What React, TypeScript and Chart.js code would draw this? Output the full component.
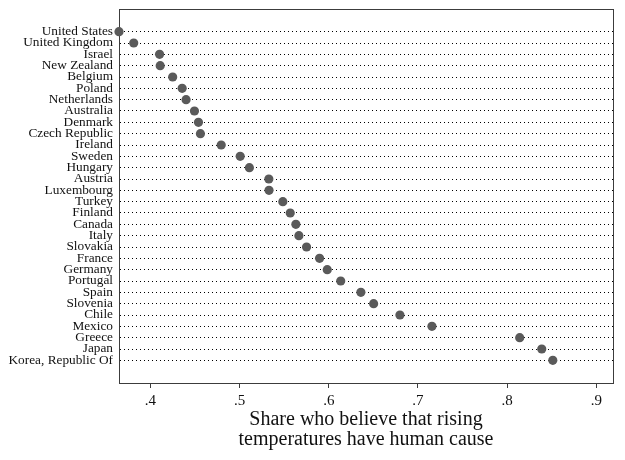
import React, { useEffect, useRef } from "react";
import { Chart, registerables } from "chart.js";

Chart.register(...registerables);

const countries = [
  "United States", "United Kingdom", "Israel", "New Zealand", "Belgium", "Poland",
  "Netherlands", "Australia", "Denmark", "Czech Republic", "Ireland", "Sweden",
  "Hungary", "Austria", "Luxembourg", "Turkey", "Finland", "Canada", "Italy",
  "Slovakia", "France", "Germany", "Portugal", "Spain", "Slovenia", "Chile",
  "Mexico", "Greece", "Japan", "Korea, Republic Of",
];

const shares = [
  0.3648, 0.3813, 0.4103, 0.411, 0.425, 0.4356,
  0.44, 0.4494, 0.4539, 0.4561, 0.4794, 0.5007,
  0.511, 0.5328, 0.533, 0.5485, 0.5568, 0.5631, 0.5665,
  0.5751, 0.5897, 0.5983, 0.6134, 0.636, 0.6503, 0.6798,
  0.7157, 0.8141, 0.8388, 0.8512,
];

const xTicks = [0.4, 0.5, 0.6, 0.7, 0.8, 0.9];
const xTitle = ["Share who believe that rising", "temperatures have human cause"];

const FONT = "'Liberation Serif', 'Times New Roman', serif";

const boxPlugin = {
  id: "box",
  beforeDatasetsDraw(chart: any) {
    const { ctx, chartArea } = chart;
    ctx.save();
    ctx.strokeStyle = "#3c3c3c";
    ctx.lineWidth = 1;
    ctx.strokeRect(
      Math.round(chartArea.left) + 0.5,
      Math.round(chartArea.top) + 0.5,
      Math.round(chartArea.right - chartArea.left),
      Math.round(chartArea.bottom - chartArea.top)
    );
    ctx.restore();
  },
};

export default function App() {
  const ref = useRef<HTMLCanvasElement>(null);

  useEffect(() => {
    if (!ref.current) return;
    const chart = new Chart(ref.current, {
      type: "scatter",
      data: {
        datasets: [
          {
            data: shares.map((v, i) => ({ x: v, y: i })),
            backgroundColor: "#5a5a5a",
            borderColor: "#5a5a5a",
            borderWidth: 0,
            pointRadius: 4.6,
            clip: false,
          },
        ],
      },
      plugins: [boxPlugin],
      options: {
        animation: false,
        responsive: false,
        maintainAspectRatio: false,
        layout: { padding: { left: 0, right: 12, top: 9, bottom: 0 } },
        plugins: {
          legend: { display: false },
          tooltip: { enabled: false },
          title: { display: false },
        },
        scales: {
          x: {
            type: "linear",
            min: 0.3648,
            max: 0.9187,
            afterBuildTicks: (scale: any) => {
              scale.ticks = xTicks.map((v) => ({ value: v }));
            },
            afterFit: (scale: any) => {
              scale.height = 77;
              scale.paddingLeft = 0;
              scale.paddingRight = 0;
            },
            grid: {
              display: true,
              drawOnChartArea: false,
              drawTicks: true,
              tickLength: 5,
              color: "#3c3c3c",
            },
            border: { display: true, color: "#3c3c3c", width: 1 },
            ticks: {
              padding: 4,
              color: "#111",
              font: { family: FONT, size: 15 },
              maxRotation: 0,
              callback: (v: any) => {
                const s = (Math.round(Number(v) * 10) / 10).toString();
                return s.replace(/^0/, "");
              },
            },
            title: {
              display: true,
              text: xTitle,
              color: "#111",
              font: { family: FONT, size: 20, lineHeight: 1.0 },
              padding: { top: 0, bottom: 10 },
            },
          },
          y: {
            type: "linear",
            reverse: true,
            min: -2,
            max: 31,
            afterBuildTicks: (scale: any) => {
              scale.ticks = countries.map((_, i) => ({ value: i }));
            },
            afterFit: (scale: any) => {
              scale.width = 119;
              scale.paddingTop = 0;
              scale.paddingBottom = 0;
            },
            grid: {
              display: true,
              drawTicks: false,
              color: "#000",
              lineWidth: 1,
            },
            border: { display: true, color: "#3c3c3c", width: 1, dash: [1, 3] },
            ticks: {
              autoSkip: false,
              padding: 6,
              color: "#111",
              font: { family: FONT, size: 13.3 },
              callback: (v: any) => countries[Number(v)] ?? "",
            },
          },
        },
      } as any,
    });
    return () => chart.destroy();
  }, []);

  return (
    <div style={{ position: "fixed", left: 0, top: 0, width: 625, height: 460, background: "#fff" }}>
      <canvas ref={ref} width={625} height={460} style={{ width: 625, height: 460 }} />
    </div>
  );
}
